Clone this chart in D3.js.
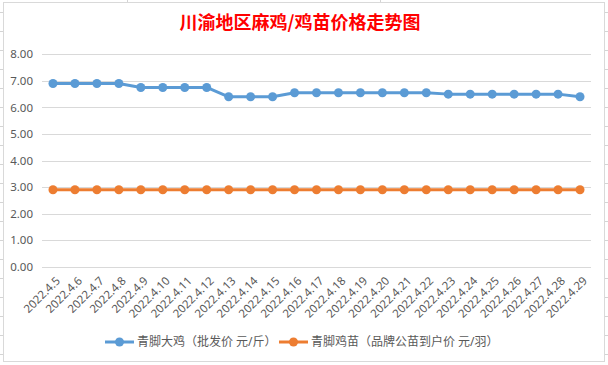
<!DOCTYPE html>
<html><head><meta charset="utf-8">
<script src="https://cdn.jsdelivr.net/npm/d3@7"></script>
<style>
html,body{margin:0;padding:0;background:#fff;}
svg{display:block;}
</style></head><body>
<svg id="c" width="608" height="365"></svg>
<script>
const categories = ["2022.4.5","2022.4.6","2022.4.7","2022.4.8","2022.4.9","2022.4.10","2022.4.11","2022.4.12","2022.4.13","2022.4.14","2022.4.15","2022.4.16","2022.4.17","2022.4.18","2022.4.19","2022.4.20","2022.4.21","2022.4.22","2022.4.23","2022.4.24","2022.4.25","2022.4.26","2022.4.27","2022.4.28","2022.4.29"];
const broilerPrice = [6.9,6.9,6.9,6.9,6.75,6.75,6.75,6.75,6.4,6.4,6.4,6.55,6.55,6.55,6.55,6.55,6.55,6.55,6.5,6.5,6.5,6.5,6.5,6.5,6.4];
const chickPrice = [2.9,2.9,2.9,2.9,2.9,2.9,2.9,2.9,2.9,2.9,2.9,2.9,2.9,2.9,2.9,2.9,2.9,2.9,2.9,2.9,2.9,2.9,2.9,2.9,2.9];
const yTicks = [0,1,2,3,4,5,6,7,8];
const seriesNames = ["青脚大鸡（批发价 元/斤）","青脚鸡苗（品牌公苗到户价 元/羽）"];
const title = "川渝地区麻鸡/鸡苗价格走势图";

const svg = d3.select("#c");
const W = 608, H = 365;
const font = "'Noto Sans','Noto Sans CJK SC',sans-serif";

// spreadsheet background lines
const bg = svg.append("g").attr("stroke","#d4d4d4").attr("stroke-width",1);
for (let y = 12; y < H; y += 19) {
  bg.append("line").attr("x1",0).attr("x2",3).attr("y1",y+0.5).attr("y2",y+0.5);
  bg.append("line").attr("x1",605).attr("x2",608).attr("y1",y+0.5).attr("y2",y+0.5);
}
[127,380].forEach(x=>bg.append("line").attr("x1",x+0.5).attr("x2",x+0.5).attr("y1",0).attr("y2",2));

// chart area border
svg.append("rect").attr("x",3.5).attr("y",2.5).attr("width",601).attr("height",359)
  .attr("fill","#fff").attr("stroke","#d9d9d9").attr("stroke-width",1);

const x = d3.scaleBand().domain(categories).range([42,591]);
const y = d3.scaleLinear().domain([0,8]).range([266.7,54.3]);

// title
svg.append("text").attr("x",300).attr("y",29).attr("text-anchor","middle")
  .attr("fill","#ff0000").attr("font-family","'Noto Sans CJK SC',sans-serif")
  .attr("font-weight","bold").attr("font-size",18).text(title);

// gridlines
svg.append("g").selectAll("line").data(yTicks).join("line")
  .attr("x1",42).attr("x2",591)
  .attr("y1",d=>Math.round(y(d))+0.5).attr("y2",d=>Math.round(y(d))+0.5)
  .attr("stroke","#d9d9d9").attr("stroke-width",1);

// y axis
const yAxis = d3.axisLeft(y).tickValues(yTicks).tickFormat(d3.format(".2f")).tickSize(0).tickPadding(9);
const ya = svg.append("g").attr("transform","translate(42,0)").call(yAxis);
ya.select(".domain").remove();
ya.selectAll("text").attr("fill","#595959").attr("font-family",font).attr("font-size",11.5);

// x axis
const xAxis = d3.axisBottom(x).tickSize(0).tickPadding(0);
const xa = svg.append("g").attr("transform","translate(0,266.7)").call(xAxis);
xa.select(".domain").remove();
xa.selectAll("text")
  .attr("fill","#595959").attr("font-family",font).attr("font-size",11.5)
  .attr("text-anchor","end").attr("dy","0.35em")
  .attr("transform","translate(5,12) rotate(-45)");

const cx = d => x(d) + x.bandwidth()/2;
const series = [
  {vals: broilerPrice, color:"#5B9BD5"},
  {vals: chickPrice, color:"#ED7D31"}
];
series.forEach(s=>{
  const line = d3.line().x((d,i)=>cx(categories[i])).y(d=>y(d));
  svg.append("path").datum(s.vals).attr("d",line).attr("fill","none")
    .attr("stroke",s.color).attr("stroke-width",3).attr("stroke-linejoin","round");
  svg.append("g").selectAll("circle").data(s.vals).join("circle")
    .attr("cx",(d,i)=>cx(categories[i])).attr("cy",d=>y(d)).attr("r",4.5)
    .attr("fill",s.color);
});

// legend
const legendX = [105, 279];
seriesNames.forEach((n,i)=>{
  const g = svg.append("g").attr("transform",`translate(${legendX[i]},342)`);
  g.append("line").attr("x1",0).attr("x2",29).attr("y1",0).attr("y2",0)
    .attr("stroke",series[i].color).attr("stroke-width",3);
  g.append("circle").attr("cx",14.5).attr("cy",0).attr("r",4.5).attr("fill",series[i].color);
  g.append("text").attr("x",32).attr("y",0).attr("dy","0.35em")
    .attr("fill","#595959").attr("font-family",font).attr("font-size",12).text(n);
});
</script>
</body></html>
